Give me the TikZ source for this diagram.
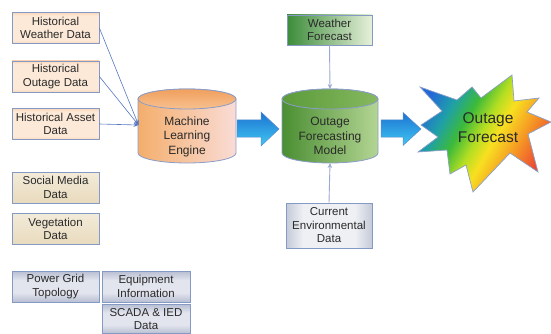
\documentclass[tikz,border=0pt]{standalone}
\usepackage{fontspec}
\setmainfont{Liberation Sans}
\usetikzlibrary{arrows.meta}
\definecolor{boxborder}{HTML}{8499C4}
\definecolor{histedge}{HTML}{F2A86C}
\definecolor{histmid}{HTML}{FDE9D8}
\definecolor{beigetop}{HTML}{F3EBD9}
\definecolor{beigebot}{HTML}{E8DABD}
\definecolor{grayedge}{HTML}{7E89A8}
\definecolor{graymid}{HTML}{EEF0F4}
\definecolor{grayvedge}{HTML}{8E98B6}
\definecolor{grayvmid}{HTML}{E2E5EE}
\definecolor{wfdark}{HTML}{3C8C3A}
\definecolor{wflight}{HTML}{E6F0DA}
\definecolor{mlL}{HTML}{F4AE6C}
\definecolor{mlR}{HTML}{F9DCD6}
\definecolor{mltopA}{HTML}{F0A05E}
\definecolor{mltopB}{HTML}{F7C08E}
\definecolor{omL}{HTML}{4A8E32}
\definecolor{omR}{HTML}{B4D594}
\definecolor{omtopA}{HTML}{5B9B3A}
\definecolor{omtopB}{HTML}{86B860}
\definecolor{cylb}{HTML}{8A9CC8}
\definecolor{arrtop}{HTML}{1C72D2}
\definecolor{arrbot}{HTML}{40C8F2}
\definecolor{arrline}{HTML}{5A8AD0}
\definecolor{histline}{HTML}{5577C0}
\definecolor{feedline}{HTML}{9AAAD0}
\definecolor{txt}{HTML}{2A2A2A}
\definecolor{bA}{HTML}{2468D8}
\definecolor{bB}{HTML}{1FA0A8}
\definecolor{bC}{HTML}{3CBA3A}
\definecolor{bD}{HTML}{B4DE22}
\definecolor{bE}{HTML}{F8E020}
\definecolor{bF}{HTML}{F59A24}
\definecolor{bG}{HTML}{EE4A32}
\definecolor{burstline}{HTML}{8AA0C8}
\pgfdeclarehorizontalshading{burst}{200bp}{color(0bp)=(bA); color(35bp)=(bA); color(58bp)=(bB); color(78bp)=(bC); color(97bp)=(bD); color(112bp)=(bE); color(135bp)=(bF); color(160bp)=(bG); color(200bp)=(bG)}
\pgfdeclareverticalshading{histshade}{100bp}{color(0bp)=(histedge); color(12bp)=(histedge); color(30bp)=(histmid); color(70bp)=(histmid); color(88bp)=(histedge); color(100bp)=(histedge)}
\pgfdeclareverticalshading{grayvshade}{100bp}{color(0bp)=(grayvedge); color(10bp)=(grayvedge); color(40bp)=(grayvmid); color(60bp)=(grayvmid); color(90bp)=(grayvedge); color(100bp)=(grayvedge)}
\pgfdeclarehorizontalshading{grayshade}{100bp}{color(0bp)=(grayedge); color(8bp)=(grayedge); color(35bp)=(graymid); color(65bp)=(graymid); color(92bp)=(grayedge); color(100bp)=(grayedge)}
\newcommand{\burstpath}{(421,125) -- (442,111) -- (420,87) -- (457,100) -- (472,87) -- (481,98) -- (512,75)
  -- (514,101) -- (539,98) -- (527,112) -- (551,122) -- (528,134) -- (538,172)
  -- (510,153) -- (473,192) -- (466,165) -- (450,174) -- (447,150) -- (418,152)
  -- (438,137) -- cycle}
\begin{document}
\begin{tikzpicture}[x=1pt,y=-1pt,
  databox/.style={draw=boxborder, line width=0.8pt, minimum width=87pt, minimum height=31pt,
    inner sep=0pt, align=center, text=txt, font=\fontsize{11.5}{13.5}\selectfont},
  histbox/.style={databox, shading=histshade},
  beigebox/.style={databox, top color=beigetop, bottom color=beigebot},
  graybox/.style={databox, shading=grayvshade},
  envbox/.style={databox, shading=grayshade},
  greenbox/.style={databox, left color=wfdark, right color=wflight},
  cyltext/.style={align=center, text=txt, font=\fontsize{12}{14.5}\selectfont},
  histconn/.style={draw=histline, line width=0.6pt, -{Stealth[length=5pt,width=4pt]}},
  feedconn/.style={draw=feedline, line width=0.9pt, -{Stealth[length=5pt,width=4.5pt]}},
  blockarrow/.style={top color=arrtop, bottom color=arrbot, draw=arrline, line width=0.5pt}
]
\useasboundingbox (0,0) rectangle (551,334);

% left data boxes
\node[histbox] (hw) at (55.5,28) {Historical\\Weather Data};
\node[histbox] (ho) at (55.5,76.5) {Historical\\Outage Data};
\node[histbox] (ha) at (55.5,124) {Historical Asset\\Data};
\node[beigebox] (sm) at (55.5,187.5) {Social Media\\Data};
\node[beigebox] (veg) at (55.5,229) {Vegetation\\Data};
\node[graybox] (pg) at (55.5,286.5) {Power Grid\\Topology};
\node[graybox, minimum width=88pt] (eq) at (146,286.5) {Equipment\\Information};
\node[graybox, minimum width=88pt, minimum height=29.5pt] (sc) at (146,318.8) {SCADA \& IED\\Data};

% Machine learning engine cylinder
\shade[left color=mlL, right color=mlR, draw=cylb, line width=0.8pt]
  (138,99) -- (138,153) arc[start angle=180, end angle=360, x radius=49pt, y radius=10pt]
  -- (236,99) arc[start angle=0, end angle=180, x radius=49pt, y radius=10pt] -- cycle;
\shade[top color=mltopA, bottom color=mltopB, draw=cylb, line width=0.8pt]
  (187,99) ellipse [x radius=49pt, y radius=10pt];
\node[cyltext] (ml) at (187,136.5) {Machine\\Learning\\Engine};
\coordinate (mlin) at (138.5,125);

% Outage forecasting model cylinder
\shade[left color=omL, right color=omR, draw=cylb, line width=0.8pt]
  (282,99) -- (282,153) arc[start angle=180, end angle=360, x radius=48pt, y radius=10pt]
  -- (378,99) arc[start angle=0, end angle=180, x radius=48pt, y radius=10pt] -- cycle;
\shade[left color=omtopA, right color=omtopB, draw=cylb, line width=0.8pt]
  (330,99) ellipse [x radius=48pt, y radius=10pt];
\node[cyltext] (om) at (330,136) {Outage\\Forecasting\\Model};
\coordinate (omtop) at (330,89);
\coordinate (ombot) at (330,163);

% weather forecast and current environmental data
\node[greenbox, minimum width=85pt, minimum height=30pt] (wf) at (329.5,30) {Weather\\Forecast};
\node[envbox, minimum width=86pt, minimum height=45pt] (ce) at (329,225.5) {Current\\Environmental\\Data};

% connectors
\draw[histconn] (hw.east) -- (mlin);
\draw[histconn] (ho.east) -- (mlin);
\draw[histconn] (ha.east) -- (mlin);
\draw[feedconn] (wf.south) -- (omtop);
\draw[feedconn] (ce.north) -- (ombot);

% block arrows
\shade[blockarrow] (237,120) -- (261,120) -- (261,112) -- (279,129) -- (261,146) -- (261,137) -- (237,137) -- cycle;
\shade[blockarrow] (381,120) -- (403,120) -- (403,112.5) -- (421,129) -- (403,145.5) -- (403,137) -- (381,137) -- cycle;

% starburst
\begin{scope}
  \clip \burstpath;
  \node[rotate=-30, inner sep=0pt, outer sep=0pt] (burstfill) at (485,131) {\pgfuseshading{burst}};
\end{scope}
\draw[draw=burstline, line width=0.7pt] \burstpath;
\node[text=txt, align=center, font=\fontsize{15.5}{18.5}\selectfont] (of) at (488,127.5) {Outage\\Forecast};
\end{tikzpicture}
\end{document}
